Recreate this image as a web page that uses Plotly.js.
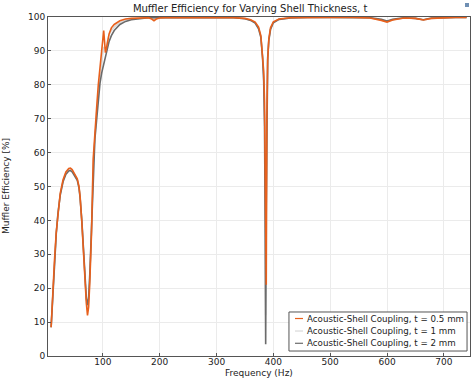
<!DOCTYPE html>
<html>
<head>
<meta charset="utf-8">
<script src="https://cdn.plot.ly/plotly-3.0.1.min.js"></script>
<style>html,body{margin:0;padding:0;background:#fff;}#chart{width:474px;height:379px;}</style>
</head>
<body>
<div id="chart"></div>
<script>
const freq = [9, 12, 15, 18, 21, 25, 30, 35, 40, 43, 46, 50, 55, 58, 60, 63, 66, 69, 71, 73, 75, 77, 80, 83, 86, 89, 92, 95, 98, 100, 101.5, 103, 104.5, 106, 108, 111, 115, 120, 130, 140, 150, 165, 180, 186, 190, 194, 200, 220, 250, 280, 310, 330, 350, 360, 368, 374, 378, 381, 383, 384.5, 385.5, 386.5, 387.5, 388.5, 390, 392, 395, 400, 410, 430, 460, 500, 540, 570, 590, 600, 610, 630, 650, 664, 678, 700, 720, 740];

const eff05 = [8.5, 19.5, 28.5, 36.5, 42.5, 48.0, 52.0, 54.3, 55.3, 55.4, 55.0, 53.8, 52.3, 50.0, 47.0, 39.5, 30.5, 20.0, 15.5, 12.0, 14.5, 21.5, 36.0, 58.0, 67.0, 73.0, 80.0, 86.0, 91.0, 93.5, 96.0, 91.0, 89.5, 90.5, 92.5, 95.0, 96.8, 97.8, 98.9, 99.4, 99.6, 99.8, 99.8, 99.4, 98.9, 99.4, 99.7, 99.9, 99.9, 99.9, 99.9, 99.8, 99.6, 99.2, 98.5, 97.0, 94.5, 89.5, 84.0, 75.0, 60.0, 35.0, 21.0, 70.0, 87.0, 93.5, 96.8, 98.6, 99.4, 99.8, 99.9, 99.9, 99.9, 99.7, 99.0, 98.5, 99.1, 99.7, 99.6, 99.1, 99.6, 99.8, 99.9, 99.9];

const eff1 = [8.5, 19.2, 28.2, 36.2, 42.2, 47.7, 51.7, 54.0, 55.0, 55.1, 54.7, 53.6, 52.1, 49.8, 46.8, 39.8, 31.0, 20.5, 16.3, 13.5, 16.0, 22.8, 36.5, 56.5, 65.5, 71.5, 78.0, 83.0, 87.0, 89.5, 91.0, 91.0, 90.5, 91.0, 92.8, 94.8, 96.0, 97.0, 98.4, 99.1, 99.4, 99.7, 99.8, 99.6, 99.4, 99.6, 99.8, 99.9, 99.9, 99.9, 99.9, 99.8, 99.5, 99.1, 98.3, 96.7, 94.2, 88.8, 82.5, 71.0, 50.0, 12.0, 35.0, 75.0, 87.5, 93.2, 96.5, 98.4, 99.3, 99.7, 99.9, 99.9, 99.9, 99.7, 99.1, 98.6, 99.2, 99.7, 99.6, 99.1, 99.6, 99.8, 99.9, 99.9];

const eff2 = [8.5, 19.0, 28.0, 36.0, 42.0, 47.4, 51.4, 53.6, 54.6, 54.7, 54.3, 53.3, 51.8, 49.6, 46.6, 40.0, 31.5, 21.0, 17.0, 15.0, 17.5, 24.0, 37.0, 55.0, 64.0, 69.5, 76.0, 80.5, 83.5, 85.0, 86.2, 87.5, 88.5, 89.5, 91.0, 92.8, 94.5, 96.0, 97.8, 98.7, 99.2, 99.6, 99.8, 99.8, 99.8, 99.8, 99.8, 99.9, 99.9, 99.9, 99.9, 99.8, 99.5, 99.0, 98.2, 96.5, 94.0, 88.0, 81.0, 68.0, 40.0, 3.5, 45.0, 80.0, 88.0, 93.0, 96.3, 98.3, 99.3, 99.7, 99.9, 99.9, 99.9, 99.8, 99.3, 98.8, 99.3, 99.8, 99.6, 99.2, 99.7, 99.9, 99.9, 99.9];

const seriesNames = ["Acoustic-Shell Coupling, t = 0.5 mm", "Acoustic-Shell Coupling, t = 1 mm", "Acoustic-Shell Coupling, t = 2 mm"];
const seriesColors = ["#e8601c", "#d9d9d9", "#6b6b6b"];
const xTicks = [100, 200, 300, 400, 500, 600, 700];
const yTicks = [0, 10, 20, 30, 40, 50, 60, 70, 80, 90, 100];

const fontFam = "DejaVu Sans, sans-serif";
const txtColor = "#222";

const traces = [
  {x: freq, y: eff1, name: seriesNames[1], type: "scatter", mode: "lines", line: {color: seriesColors[1], width: 1.6}},
  {x: freq, y: eff2, name: seriesNames[2], type: "scatter", mode: "lines", line: {color: seriesColors[2], width: 1.6}},
  {x: freq, y: eff05, name: seriesNames[0], type: "scatter", mode: "lines", line: {color: seriesColors[0], width: 1.6}}
];

// custom compact legend (paper coordinates)
const legRowsY = [0.1106, 0.0737, 0.0375];
const shapes = [
  {type: "rect", xref: "paper", yref: "paper", x0: 0.571, x1: 0.993, y0: 0.0147, y1: 0.1298, line: {color: "#555", width: 1}, fillcolor: "#fff", layer: "above"}
];
const annotations = [];
seriesNames.forEach((nm, i) => {
  shapes.push({type: "line", xref: "paper", yref: "paper", x0: 0.5853, x1: 0.6043, y0: legRowsY[i], y1: legRowsY[i], line: {color: seriesColors[i], width: 1.2}, layer: "above"});
  annotations.push({xref: "paper", yref: "paper", x: 0.609, y: legRowsY[i], xanchor: "left", yanchor: "middle", text: nm, showarrow: false, font: {family: fontFam, size: 8.7, color: txtColor}});
});
// small icon top-right
shapes.push({type: "rect", xref: "paper", yref: "paper", x0: (465 - 48) / 422, x1: (469 - 48) / 422, y0: (356 - 7) / 339, y1: (356 - 3) / 339, line: {width: 0}, fillcolor: "#6f8fb3", layer: "above"});
// axis titles
annotations.push({xref: "paper", yref: "paper", x: (259 - 48) / 422, y: (356 - 373.5) / 339, xanchor: "center", yanchor: "middle", text: "Frequency (Hz)", showarrow: false, font: {family: fontFam, size: 9, color: txtColor}});
annotations.push({xref: "paper", yref: "paper", x: (6 - 48) / 422, y: (356 - 186) / 339, xanchor: "center", yanchor: "middle", textangle: -90, text: "Muffler Efficiency [%]", showarrow: false, font: {family: fontFam, size: 9, color: txtColor}});

const layout = {
  width: 474, height: 379,
  margin: {l: 48, r: 4, t: 17, b: 23, pad: 0},
  paper_bgcolor: "#fff", plot_bgcolor: "#fff",
  font: {family: fontFam, size: 9, color: txtColor},
  title: {text: "Muffler Efficiency for Varying Shell Thickness, t", font: {family: fontFam, size: 10, color: txtColor}, x: 0.479, xanchor: "center", xref: "paper", y: 0.988, yanchor: "top"},
  showlegend: false,
  shapes: shapes,
  annotations: annotations,
  xaxis: {
    range: [3.5, 746], tickvals: xTicks, ticktext: xTicks.map(String),
    showgrid: true, gridcolor: "#ebebeb", gridwidth: 1,
    showline: true, linecolor: "#555", linewidth: 1, mirror: true,
    ticks: "inside", ticklen: 3, tickcolor: "#555", ticklabelstandoff: -3,
    zeroline: false, tickfont: {family: fontFam, size: 9, color: txtColor}
  },
  yaxis: {
    range: [0, 100], tickvals: yTicks, ticktext: yTicks.map(String),
    showgrid: true, gridcolor: "#ebebeb", gridwidth: 1,
    showline: true, linecolor: "#555", linewidth: 1, mirror: true,
    ticks: "inside", ticklen: 3, tickcolor: "#555",
    zeroline: false, tickfont: {family: fontFam, size: 9, color: txtColor}
  }
};

Plotly.newPlot("chart", traces, layout, {displayModeBar: false, staticPlot: true});
</script>
</body>
</html>
